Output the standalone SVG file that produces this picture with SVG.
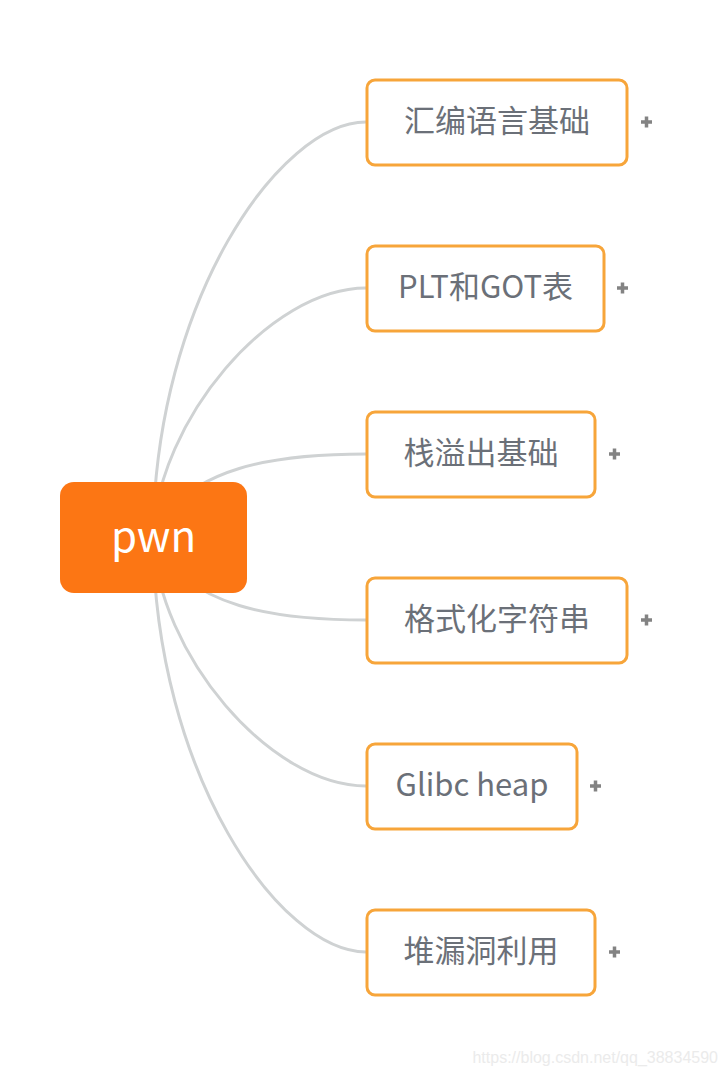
<svg xmlns="http://www.w3.org/2000/svg" width="727" height="1076" viewBox="0 0 727 1076">
<style>
.edge{fill:none;stroke:#CFD2D3;stroke-width:3}
.box{fill:#FFFFFF;stroke:#F7A53A;stroke-width:3}
.lbl{font-family:"Noto Sans CJK SC","Noto Sans",sans-serif;font-size:31px;fill:#6B7078;text-anchor:middle;dominant-baseline:central}
.plus{stroke:#838383;stroke-width:3.5;fill:none}
</style>
<rect width="727" height="1076" fill="#FFFFFF"/>
<g id="connectors">
<path class="edge" d="M153,537 C155,300 280,122 366,122"/>
<path class="edge" d="M153,537 C158,420 270,288 366,288"/>
<path class="edge" d="M153,537 C185,465 280,454 366,454"/>
<path class="edge" d="M153,537 C185,609 280,620 366,620"/>
<path class="edge" d="M153,537 C158,654 270,786 366,786"/>
<path class="edge" d="M153,537 C155,774 280,952 366,952"/>
</g>
<g id="root">
<rect x="60" y="482" width="187" height="111" rx="14" fill="#FC7614"/>
<text x="153.5" y="533" font-family="'Noto Sans CJK SC','Noto Sans',sans-serif" font-size="42" fill="#FFFFFF" text-anchor="middle" dominant-baseline="central">pwn</text>
</g>
<g id="n1">
<rect class="box" x="367" y="80" width="260" height="85" rx="8"/>
<text class="lbl" x="497" y="118">汇编语言基础</text>
<path class="plus" d="M641,122 h11 M646.5,116.5 v11"/>
</g>
<g id="n2">
<rect class="box" x="367" y="246" width="237" height="85" rx="8"/>
<text class="lbl" x="485.5" y="284">PLT和GOT表</text>
<path class="plus" d="M617,288 h11 M622.5,282.5 v11"/>
</g>
<g id="n3">
<rect class="box" x="367" y="412" width="228" height="85" rx="8"/>
<text class="lbl" x="481" y="450">栈溢出基础</text>
<path class="plus" d="M609,454 h11 M614.5,448.5 v11"/>
</g>
<g id="n4">
<rect class="box" x="367" y="578" width="260" height="85" rx="8"/>
<text class="lbl" x="497" y="616">格式化字符串</text>
<path class="plus" d="M641,620 h11 M646.5,614.5 v11"/>
</g>
<g id="n5">
<rect class="box" x="367" y="744" width="210" height="85" rx="8"/>
<text class="lbl" x="472" y="782">Glibc heap</text>
<path class="plus" d="M590,786 h11 M595.5,780.5 v11"/>
</g>
<g id="n6">
<rect class="box" x="367" y="910" width="228" height="85" rx="8"/>
<text class="lbl" x="481" y="948">堆漏洞利用</text>
<path class="plus" d="M609,952 h11 M614.5,946.5 v11"/>
</g>
<text x="718" y="1063" font-family="'Liberation Sans',Arial,sans-serif" font-size="16" fill="#EBEBEB" text-anchor="end">https://blog.csdn.net/qq_38834590</text>
</svg>
